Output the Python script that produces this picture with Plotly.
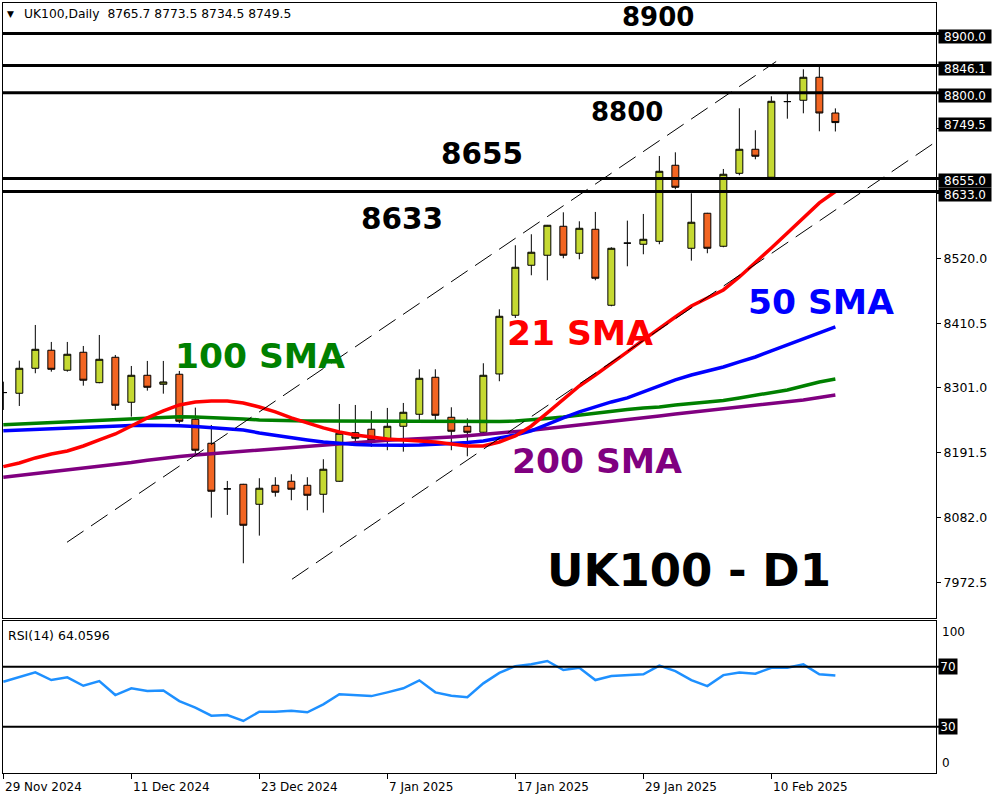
import plotly.graph_objects as go

# ---------------- data ----------------
dates = ["29 Nov 2024", "2 Dec 2024", "3 Dec 2024", "4 Dec 2024", "5 Dec 2024", "6 Dec 2024",
         "9 Dec 2024", "10 Dec 2024", "11 Dec 2024", "12 Dec 2024", "13 Dec 2024", "16 Dec 2024",
         "17 Dec 2024", "18 Dec 2024", "19 Dec 2024", "20 Dec 2024", "23 Dec 2024", "24 Dec 2024",
         "27 Dec 2024", "30 Dec 2024", "31 Dec 2024", "2 Jan 2025", "3 Jan 2025", "6 Jan 2025",
         "7 Jan 2025", "8 Jan 2025", "9 Jan 2025", "10 Jan 2025", "13 Jan 2025", "14 Jan 2025",
         "15 Jan 2025", "16 Jan 2025", "17 Jan 2025", "20 Jan 2025", "21 Jan 2025", "22 Jan 2025",
         "23 Jan 2025", "24 Jan 2025", "27 Jan 2025", "28 Jan 2025", "29 Jan 2025", "30 Jan 2025",
         "31 Jan 2025", "3 Feb 2025", "4 Feb 2025", "5 Feb 2025", "6 Feb 2025", "7 Feb 2025",
         "10 Feb 2025", "11 Feb 2025", "12 Feb 2025", "13 Feb 2025", "14 Feb 2025"]

opens = [8293.3, 8292.1, 8334.3, 8364.8, 8331.0, 8361.4, 8310.0, 8352.9, 8276.9, 8322.5,
         8307.3, 8324.2, 8248.2, 8207.6, 8130.5, 8138.3, 8104.5, 8136.6, 8143.4, 8136.6,
         8121.4, 8143.4, 8225.5, 8231.3, 8212.7, 8236.3, 8256.6, 8319.1, 8251.5, 8236.3,
         8226.2, 8324.7, 8423.9, 8508.4, 8525.3, 8574.3, 8528.7, 8569.2, 8440.8, 8545.8,
         8543.9, 8548.9, 8677.4, 8537.1, 8596.3, 8540.5, 8663.8, 8704.4, 8657.1, 8785.0,
         8787.2, 8826.1, 8765.7]
highs = [8311.7, 8347.2, 8407.5, 8378.8, 8378.8, 8372.0, 8390.6, 8356.8, 8338.2, 8346.7,
         8346.7, 8329.8, 8267.8, 8238.5, 8143.9, 8139.0, 8148.5, 8150.2, 8155.2, 8150.2,
         8180.6, 8274.0, 8272.3, 8262.2, 8267.3, 8275.7, 8332.6, 8332.6, 8268.4, 8249.8,
         8342.8, 8434.0, 8542.2, 8560.8, 8576.5, 8597.9, 8582.7, 8598.5, 8538.8, 8583.8,
         8595.1, 8693.1, 8699.3, 8630.1, 8597.0, 8671.1, 8773.7, 8736.5, 8794.0, 8800.0,
         8839.6, 8846.1, 8773.5]
lows = [8263.9, 8270.6, 8325.9, 8328.6, 8328.6, 8304.9, 8309.0, 8263.9, 8252.6, 8296.5,
        8291.4, 8241.4, 8187.8, 8081.9, 8086.5, 8004.8, 8051.5, 8117.4, 8111.3, 8094.4,
        8090.3, 8142.5, 8204.7, 8201.4, 8195.8, 8193.4, 8247.0, 8247.0, 8195.8, 8185.6,
        8219.9, 8312.4, 8419.3, 8491.5, 8483.0, 8520.2, 8518.5, 8483.0, 8439.1, 8506.7,
        8527.0, 8543.9, 8636.8, 8516.2, 8528.7, 8538.8, 8660.5, 8687.5, 8655.0, 8756.1,
        8765.2, 8734.8, 8734.5]
closes = [8293.3, 8334.3, 8366.4, 8332.6, 8358.0, 8314.1, 8349.5, 8271.8, 8322.5, 8302.2,
          8311.2, 8244.8, 8195.8, 8126.5, 8130.5, 8069.0, 8131.6, 8124.8, 8129.9, 8119.7,
          8163.7, 8224.5, 8216.1, 8212.7, 8236.3, 8260.0, 8317.4, 8254.9, 8227.9, 8226.2,
          8322.5, 8422.2, 8505.0, 8530.4, 8576.0, 8525.3, 8570.9, 8486.4, 8537.1, 8545.8,
          8552.3, 8667.2, 8640.2, 8581.1, 8537.1, 8662.2, 8704.4, 8692.6, 8785.5, 8785.0,
          8826.1, 8765.7, 8749.5]

sma21 = [8168.1, 8174.3, 8182.8, 8189.5, 8194.6, 8203.0, 8213.2, 8223.3, 8236.8, 8250.4,
         8262.2, 8272.3, 8277.4, 8279.1, 8279.1, 8275.7, 8268.9, 8260.5, 8250.4, 8241.9,
         8233.5, 8226.7, 8221.6, 8218.3, 8214.9, 8213.2, 8211.5, 8209.8, 8206.4, 8203.0,
         8203.0, 8209.8, 8219.9, 8236.8, 8258.8, 8282.5, 8304.4, 8323.0, 8341.6, 8361.9,
         8382.2, 8402.4, 8421.0, 8439.6, 8453.1, 8466.7, 8488.6, 8512.3, 8537.6, 8563.0,
         8588.3, 8613.7, 8633.0]
sma50 = [8228.9, 8230.1, 8231.3, 8232.3, 8233.5, 8234.3, 8235.5, 8236.8, 8237.7, 8238.0,
         8238.0, 8237.2, 8236.0, 8234.3, 8232.6, 8230.1, 8225.0, 8220.8, 8216.6, 8213.2,
         8209.8, 8207.6, 8205.6, 8204.7, 8204.2, 8204.2, 8204.7, 8205.6, 8207.3, 8209.0,
         8211.5, 8216.6, 8221.6, 8228.4, 8240.2, 8250.4, 8260.5, 8268.9, 8277.4, 8284.2,
         8294.3, 8304.4, 8314.6, 8323.0, 8329.8, 8336.5, 8345.0, 8353.4, 8363.6, 8373.7,
         8383.9, 8394.0, 8404.1]
sma100 = [8239.0, 8240.2, 8241.4, 8242.8, 8243.9, 8245.3, 8246.6, 8248.2, 8249.5, 8250.9,
          8252.0, 8252.3, 8252.0, 8251.2, 8250.4, 8248.7, 8247.0, 8246.1, 8245.5, 8245.3,
          8245.1, 8244.9, 8245.0, 8244.7, 8244.5, 8244.6, 8244.4, 8244.2, 8244.1, 8243.9,
          8244.0, 8244.3, 8245.3, 8247.0, 8249.5, 8252.0, 8255.4, 8258.8, 8262.2, 8264.7,
          8267.3, 8268.9, 8272.3, 8274.9, 8277.4, 8279.9, 8284.2, 8288.4, 8292.6, 8297.7,
          8304.4, 8311.2, 8316.3]
sma200 = [8150.2, 8153.2, 8156.2, 8159.1, 8162.1, 8165.0, 8168.4, 8171.8, 8175.2, 8179.0,
          8182.8, 8185.3, 8187.8, 8189.9, 8191.7, 8194.1, 8196.3, 8198.8, 8201.4, 8203.4,
          8205.6, 8207.6, 8209.8, 8211.2, 8212.7, 8214.0, 8215.2, 8216.6, 8218.3, 8220.3,
          8222.5, 8224.5, 8226.7, 8229.6, 8232.6, 8235.5, 8238.5, 8241.1, 8243.6, 8247.0,
          8250.4, 8253.7, 8257.1, 8260.0, 8263.0, 8266.1, 8268.9, 8271.8, 8274.9, 8277.9,
          8280.8, 8285.0, 8289.2]
rsi14 = [60.0, 63.3, 66.2, 61.1, 62.9, 57.3, 60.4, 51.1, 55.6, 53.8,
         54.2, 47.1, 42.7, 37.3, 37.8, 33.8, 40.0, 40.0, 40.7, 39.6,
         44.9, 51.6, 51.1, 50.4, 52.9, 55.6, 60.9, 52.9, 50.7, 49.6,
         58.9, 65.9, 70.4, 71.6, 73.8, 67.8, 69.3, 61.1, 63.8, 64.4,
         64.9, 70.7, 67.1, 61.1, 57.1, 64.4, 66.2, 65.3, 69.3, 69.3,
         71.6, 64.9, 64.0596]

levels = [8900.0, 8846.1, 8800.0, 8655.0, 8633.0]
last_price = 8749.5
price_ticks = [7972.5, 8082.0, 8191.5, 8301.0, 8410.5, 8520.0, 8629.5, 8739.0, 8848.5]
hidden_ticks = [8629.5, 8739.0, 8848.5]   # covered by the value boxes in the reference
rsi_levels = [70, 30]
date_tick_idx = [0, 8, 16, 24, 32, 40, 48]

# trend channel (bar index, price)
channel_upper_x = [3.98, 48.3]
channel_upper_y = [8040.3, 8852.7]
channel_lower_x = [18.04, 58.29]
channel_lower_y = [7977.8, 8717.3]

# ---------------- layout helpers ----------------
W, H = 1000, 800
L, R, T, B = 3, 936, 3, 773


def px_x(px):
    return (px - L) / (R - L)


def px_y(py):
    return (B - py) / (B - T)


xs = list(range(len(dates)))
FONT = "DejaVu Sans"

fig = go.Figure()

fig.add_trace(go.Candlestick(
    x=xs, open=opens, high=highs, low=lows, close=closes,
    increasing=dict(fillcolor="#C5D932", line=dict(color="black", width=1)),
    decreasing=dict(fillcolor="#F26522", line=dict(color="black", width=1)),
    whiskerwidth=0, xaxis="x", yaxis="y", showlegend=False, hoverinfo="skip"))

for vals, col in [(sma200, "#800080"), (sma100, "#008000"), (sma50, "#0000FF"), (sma21, "#FF0000")]:
    fig.add_trace(go.Scatter(x=xs, y=vals, mode="lines", line=dict(color=col, width=3.5),
                             xaxis="x", yaxis="y", showlegend=False, hoverinfo="skip"))

for cx, cy in [(channel_upper_x, channel_upper_y), (channel_lower_x, channel_lower_y)]:
    fig.add_trace(go.Scatter(x=cx, y=cy, mode="lines",
                             line=dict(color="black", width=1, dash="20px,9px"),
                             xaxis="x", yaxis="y", showlegend=False, hoverinfo="skip"))

fig.add_trace(go.Scatter(x=xs, y=rsi14, mode="lines", line=dict(color="#1E90FF", width=2.5),
                         xaxis="x2", yaxis="y2", showlegend=False, hoverinfo="skip"))

shapes = []
for lv in levels:
    shapes.append(dict(type="line", xref="paper", yref="y", x0=0, x1=px_x(940), y0=lv, y1=lv,
                       line=dict(color="black", width=3), layer="above"))
for lv in rsi_levels:
    shapes.append(dict(type="line", xref="paper", yref="y2", x0=0, x1=px_x(940), y0=lv, y1=lv,
                       line=dict(color="black", width=2), layer="above"))

ann = []
# header
ann.append(dict(text="▼", x=px_x(5), y=px_y(14), xref="paper", yref="paper",
                xanchor="left", yanchor="middle", showarrow=False,
                font=dict(family=FONT, size=9, color="black")))
ann.append(dict(text="UK100,Daily  8765.7 8773.5 8734.5 8749.5", x=px_x(22), y=px_y(14),
                xref="paper", yref="paper", xanchor="left", yanchor="middle", showarrow=False,
                font=dict(family=FONT, size=12.3, color="black")))
ann.append(dict(text="RSI(14) 64.0596", x=px_x(6), y=px_y(635), xref="paper", yref="paper",
                xanchor="left", yanchor="middle", showarrow=False,
                font=dict(family=FONT, size=12.5, color="black")))

# big text labels
big = [("8900", 658, 17, 26, "black"), ("8800", 627, 112, 26, "black"),
       ("8655", 482, 154, 29.5, "black"), ("8633", 402, 219, 29.5, "black"),
       ("100 SMA", 260, 356, 34.5, "#008000"), ("21 SMA", 580, 333, 34.5, "#FF0000"),
       ("50 SMA", 821, 302, 34.5, "#0000FF"), ("200 SMA", 597, 461, 34.5, "#800080"),
       ("UK100 - D1", 689, 570, 45, "black")]
for txt, cx, cy, sz, col in big:
    ann.append(dict(text="<b>%s</b>" % txt, x=px_x(cx), y=px_y(cy), xref="paper", yref="paper",
                    xanchor="center", yanchor="middle", showarrow=False,
                    font=dict(family=FONT, size=sz, color=col)))

# price boxes on right axis
box_vals = levels[:3] + [last_price] + levels[3:]
box_shift = [-3, -3, -3, -2, -2, -3]
for v, sh in zip(box_vals, box_shift):
    ann.append(dict(text="%.1f" % v, x=px_x(938), y=v, xref="paper", yref="y",
                    xanchor="left", yanchor="middle", yshift=sh, showarrow=False,
                    bgcolor="black", width=52, height=13, borderpad=0,
                    font=dict(family=FONT, size=12, color="white")))

# RSI axis labels
for v, lab in [(70, "70"), (30, "30")]:
    ann.append(dict(text=lab, x=px_x(938), y=v, xref="paper", yref="y2",
                    xanchor="left", yanchor="middle", showarrow=False,
                    bgcolor="black", width=18, height=15, borderpad=0,
                    font=dict(family=FONT, size=12, color="white")))
ann.append(dict(text="100", x=px_x(940), y=px_y(632), xref="paper", yref="paper",
                xanchor="left", yanchor="middle", showarrow=False,
                font=dict(family=FONT, size=12, color="black")))
ann.append(dict(text="0", x=px_x(940), y=px_y(763), xref="paper", yref="paper",
                xanchor="left", yanchor="middle", showarrow=False,
                font=dict(family=FONT, size=12, color="black")))

# date labels (left aligned at tick)
for i in date_tick_idx:
    ann.append(dict(text=dates[i], x=i, y=0, xref="x2", yref="paper", xanchor="left",
                    yanchor="middle", yshift=-14, xshift=0, showarrow=False,
                    font=dict(family=FONT, size=12, color="black")))

xr = [-0.02, 58.29]
axis_common = dict(showgrid=False, zeroline=False, showline=True, mirror=True,
                   linecolor="black", linewidth=1)

fig.update_layout(
    width=W, height=H,
    margin=dict(l=L, r=W - R, t=T, b=H - B),
    paper_bgcolor="white", plot_bgcolor="white",
    showlegend=False, hovermode=False, boxgap=0.38,
    xaxis=dict(domain=[0, 1], anchor="y", range=xr, showticklabels=False, ticks="",
               rangeslider=dict(visible=False), **axis_common),
    yaxis=dict(domain=[(B - 618) / (B - T), 1], anchor="x", range=[7912.3, 8951.6], side="right",
               tickvals=price_ticks,
               ticktext=["" if t in hidden_ticks else "%.1f" % t for t in price_ticks],
               ticks="outside", ticklen=4, tickcolor="black",
               tickfont=dict(family=FONT, size=12.5, color="black"), **axis_common),
    xaxis2=dict(domain=[0, 1], anchor="y2", range=xr, tickvals=date_tick_idx, ticks="outside",
                ticklen=5, tickcolor="black", showticklabels=False, **axis_common),
    yaxis2=dict(domain=[0, (B - 621) / (B - T)], anchor="x2", range=[-0.9, 100.5], side="right",
                showticklabels=False, ticks="", **axis_common),
    shapes=shapes, annotations=ann,
)

fig.write_html("out.html",
               config={"displayModeBar": False},
               post_script="document.body.style.margin='0px';document.body.style.overflow='hidden';")
